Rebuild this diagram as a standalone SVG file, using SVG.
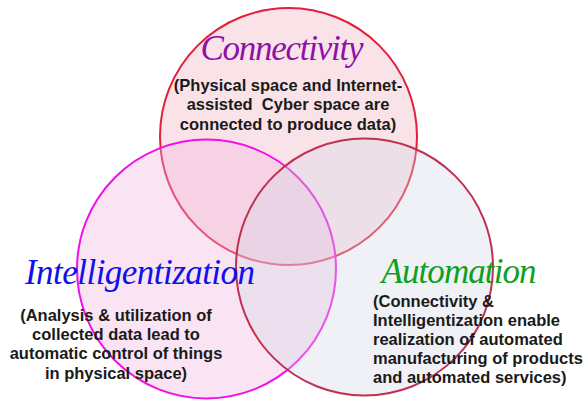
<svg xmlns="http://www.w3.org/2000/svg" width="587" height="400" viewBox="0 0 587 400">
<style>
.h{font-family:"Liberation Serif","DejaVu Serif",serif;font-style:italic;font-size:35px}
.t{font-family:"Liberation Sans","DejaVu Sans",sans-serif;font-weight:bold;font-size:16.5px;fill:#1a1a1a;white-space:pre}
.c{fill-opacity:0.35;stroke-width:2}
</style>
<rect width="587" height="400" fill="#ffffff"/>
<g id="circles">
<circle id="c-connectivity" class="c" cx="288.5" cy="136.5" r="128.5" fill="#f0b0bc" stroke="#e0203c"/>
<circle id="c-intelligentization" class="c" cx="206.5" cy="269" r="129.5" fill="#f2b0dc" stroke="#f010e8"/>
<circle id="c-automation" class="c" cx="364.5" cy="267" r="128.5" fill="#d0d8e4" stroke="#c03050"/>
</g>
<g id="connectivity">
<text class="h" x="282" y="60" text-anchor="middle" fill="#9010a8" textLength="163">Connectivity</text>
<text class="t" x="288" y="91" text-anchor="middle">(Physical space and Internet-</text>
<text class="t" x="288" y="110" text-anchor="middle">assisted  Cyber space are</text>
<text class="t" x="288" y="130" text-anchor="middle">connected to produce data)</text>
</g>
<g id="intelligentization">
<text class="h" x="140" y="284" text-anchor="middle" fill="#1010e8" textLength="230">Intelligentization</text>
<text class="t" x="116" y="321" text-anchor="middle">(Analysis &amp; utilization of</text>
<text class="t" x="116" y="340" text-anchor="middle">collected data lead to</text>
<text class="t" x="116" y="359" text-anchor="middle">automatic control of things</text>
<text class="t" x="116" y="379" text-anchor="middle">in physical space)</text>
</g>
<g id="automation">
<text class="h" x="459" y="283" text-anchor="middle" fill="#10a020" textLength="155">Automation</text>
<text class="t" x="373" y="307">(Connectivity &amp;</text>
<text class="t" x="373" y="326">Intelligentization enable</text>
<text class="t" x="373" y="345">realization of automated</text>
<text class="t" x="373" y="364">manufacturing of products</text>
<text class="t" x="373" y="383">and automated services)</text>
</g>
</svg>
